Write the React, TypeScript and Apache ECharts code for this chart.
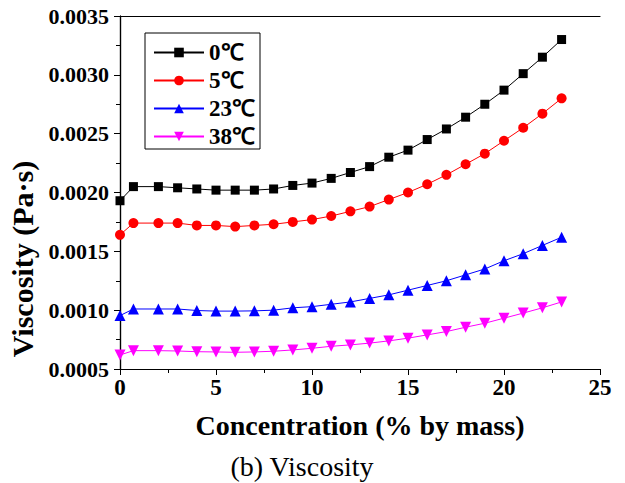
import React, { useEffect, useRef } from "react";
import * as echarts from "echarts";

const concentration = [0, 0.7, 2, 3, 4, 5, 6, 7, 8, 9, 10, 11, 12, 13, 14, 15, 16, 17, 18, 19, 20, 21, 22, 23];
const visc0 = [0.00193, 0.00205, 0.00205, 0.00204, 0.00203, 0.00202, 0.00202, 0.00202, 0.00203, 0.00206, 0.00208, 0.00212, 0.00217, 0.00222, 0.0023, 0.00236, 0.00245, 0.00254, 0.00264, 0.00275, 0.00287, 0.00301, 0.00315, 0.0033];
const visc5 = [0.00164, 0.00174, 0.00174, 0.00174, 0.00172, 0.00172, 0.00171, 0.00172, 0.00173, 0.00175, 0.00177, 0.0018, 0.00184, 0.00188, 0.00194, 0.002, 0.00207, 0.00215, 0.00224, 0.00233, 0.00244, 0.00255, 0.00267, 0.0028];
const visc23 = [0.000954, 0.00101, 0.00101, 0.00101, 0.000997, 0.000992, 0.000992, 0.000994, 0.001, 0.00102, 0.00103, 0.00105, 0.00107, 0.0011, 0.00113, 0.00117, 0.00121, 0.00125, 0.0013, 0.00135, 0.00142, 0.00148, 0.00155, 0.00162];
const visc38 = [0.000619, 0.000656, 0.000656, 0.000653, 0.000647, 0.000645, 0.000642, 0.000645, 0.000651, 0.000662, 0.000676, 0.000693, 0.000705, 0.00072, 0.000739, 0.000762, 0.00079, 0.000818, 0.000855, 0.000889, 0.000932, 0.000975, 0.00102, 0.00107];
const seriesNames = ["0℃", "5℃", "23℃", "38℃"];
const xTitle = "Concentration (% by mass)";
const yTitle = "Viscosity (Pa·s)";
const caption = "(b) Viscosity";

const FONT = "Liberation Serif";

export default function App() {
  const ref = useRef<HTMLDivElement>(null);
  useEffect(() => {
    if (!ref.current) return;
    const chart = echarts.init(ref.current, undefined, { renderer: "svg" });
    const mk = (name: string, vals: number[], color: string, symbol: string, size: number, rotate = 0) => ({
      name,
      type: "line",
      data: concentration.map((c, i) => [c, vals[i]]),
      symbol,
      symbolSize: size,
      symbolRotate: rotate,
      showAllSymbol: true,
      lineStyle: { color, width: 1 },
      itemStyle: { color },
      emphasis: { disabled: true },
    });
    const axisLine = { show: true, lineStyle: { color: "#000", width: 1.2 } };
    chart.setOption({
      animation: false,
      backgroundColor: "#fff",
      grid: { left: 120, right: 25, top: 16, bottom: 114, containLabel: false },
      legend: {
        orient: "vertical",
        left: 145,
        top: 33,
        borderColor: "#000",
        borderWidth: 1,
        padding: [8, 5, 1, 8],
        itemGap: 5,
        itemWidth: 50,
        itemHeight: 12,
        textStyle: { fontFamily: FONT, fontWeight: "bold", fontSize: 23, color: "#000", lineHeight: 23 },
        data: seriesNames,
      },
      xAxis: [
        {
          type: "value",
          min: 0,
          max: 25,
          interval: 5,
          position: "bottom",
          axisLine,
          axisTick: { show: true, length: 6, lineStyle: { color: "#000", width: 1 } },
          minorTick: { show: true, splitNumber: 2, length: 4, lineStyle: { color: "#000", width: 1 } },
          splitLine: { show: false },
          axisLabel: { fontFamily: FONT, fontWeight: "bold", fontSize: 23, color: "#000", margin: 7 },
        },
        {
          type: "value",
          min: 0,
          max: 25,
          interval: 5,
          position: "top",
          axisLine,
          axisTick: { show: false },
          splitLine: { show: false },
          axisLabel: { show: false },
        },
      ],
      yAxis: [
        {
          type: "value",
          min: 0.0005,
          max: 0.0035,
          interval: 0.0005,
          position: "left",
          axisLine,
          axisTick: { show: true, length: 6, lineStyle: { color: "#000", width: 1 } },
          minorTick: { show: true, splitNumber: 2, length: 4, lineStyle: { color: "#000", width: 1 } },
          splitLine: { show: false },
          axisLabel: {
            fontFamily: FONT,
            fontWeight: "bold",
            fontSize: 22,
            color: "#000",
            margin: 11,
            formatter: (v: number) => v.toFixed(4),
          },
        },
        {
          type: "value",
          min: 0.0005,
          max: 0.0035,
          interval: 0.0005,
          position: "right",
          axisLine,
          axisTick: { show: true, inside: true, length: 4, lineStyle: { color: "#000", width: 1 } },
          minorTick: { show: true, splitNumber: 2, length: 4, lineStyle: { color: "#000", width: 1 } },
          splitLine: { show: false },
          axisLabel: { show: false },
        },
      ],
      series: [
        mk(seriesNames[0], visc0, "#000000", "rect", 9),
        mk(seriesNames[1], visc5, "#ff0000", "circle", 10),
        mk(seriesNames[2], visc23, "#0000ff", "triangle", 11),
        mk(seriesNames[3], visc38, "#ff00ff", "triangle", 11, 180),
      ],
      graphic: [
        {
          type: "text",
          x: 360,
          y: 425,
          style: { text: xTitle, fontFamily: FONT, fontWeight: "bold", fontSize: 28, fill: "#000", textAlign: "center", textVerticalAlign: "middle" },
        },
        {
          type: "text",
          x: 22,
          y: 259,
          rotation: Math.PI / 2,
          style: { text: yTitle, fontFamily: FONT, fontWeight: "bold", fontSize: 30, fill: "#000", textAlign: "center", textVerticalAlign: "middle" },
        },
        {
          type: "text",
          x: 302,
          y: 466,
          style: { text: caption, fontFamily: FONT, fontWeight: "normal", fontSize: 28, fill: "#000", textAlign: "center", textVerticalAlign: "middle" },
        },
      ],
    });
    return () => chart.dispose();
  }, []);
  return <div ref={ref} style={{ position: "fixed", left: 0, top: 0, width: 625, height: 483 }} />;
}
